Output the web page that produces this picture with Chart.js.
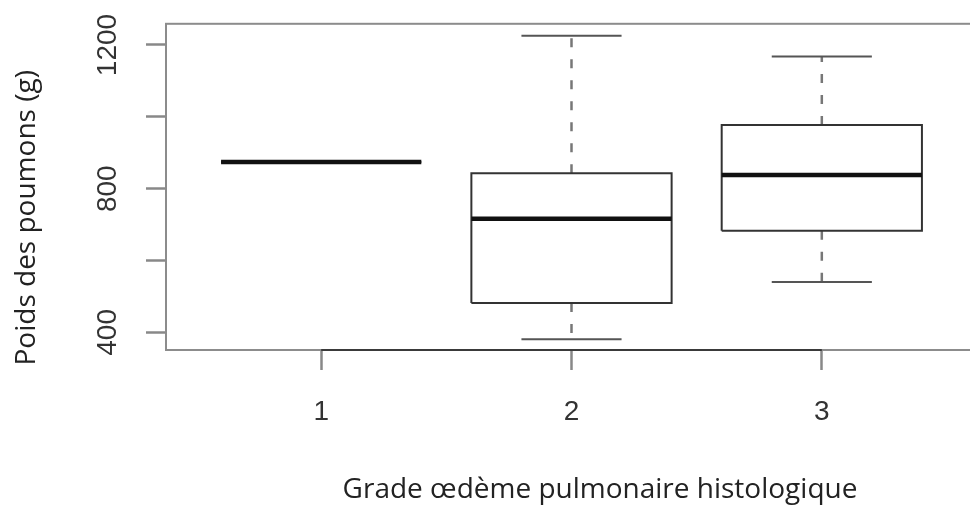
<!DOCTYPE html>
<html>
<head>
<meta charset="utf-8">
<script src="https://cdn.jsdelivr.net/npm/chart.js@4.4.1/dist/chart.umd.min.js"></script>
<style>
  html, body { margin: 0; padding: 0; background: #fff; overflow: hidden; }
  #wrap { width: 990px; height: 507px; }
</style>
</head>
<body>
<div id="wrap"><canvas id="chart" width="990" height="507"></canvas></div>
<script>
// Lung weight (g) by histological pulmonary oedema grade: five-number summaries
const grades = [1, 2, 3];
const lowerWhisker = [874, 381, 540];
const lowerQuartile = [874, 482, 683];
const medians = [874, 716, 838];
const upperQuartile = [874, 843, 977];
const upperWhisker = [874, 1226, 1168];

// y axis: tick marks, and the ones that carry a label
const yTicks = [400, 600, 800, 1000, 1200];
const yLabelled = [400, 800, 1200];

const xTitle = 'Grade œdème pulmonaire histologique';
const yTitle = 'Poids des poumons (g)';

// half widths of box and whisker caps, in x-axis units
const BOX_HALF = 0.4;
const CAP_HALF = 0.2;
const gap = g => ({ x: g + 0.5, y: null });

// build polyline points (segments separated by null gaps)
const boxPoints = [];
const upperWhiskerPoints = [];
const lowerWhiskerPoints = [];
const capPoints = [];
const medianPoints = [];
grades.forEach((g, i) => {
  const l = g - BOX_HALF, r = g + BOX_HALF;
  boxPoints.push(
    { x: l, y: lowerQuartile[i] }, { x: r, y: lowerQuartile[i] },
    { x: r, y: upperQuartile[i] }, { x: l, y: upperQuartile[i] },
    { x: l, y: lowerQuartile[i] }, gap(g));
  upperWhiskerPoints.push({ x: g, y: upperQuartile[i] }, { x: g, y: upperWhisker[i] }, gap(g));
  lowerWhiskerPoints.push({ x: g, y: lowerQuartile[i] }, { x: g, y: lowerWhisker[i] }, gap(g));
  capPoints.push(
    { x: g - CAP_HALF, y: upperWhisker[i] }, { x: g + CAP_HALF, y: upperWhisker[i] }, gap(g - 0.25),
    { x: g - CAP_HALF, y: lowerWhisker[i] }, { x: g + CAP_HALF, y: lowerWhisker[i] }, gap(g));
  medianPoints.push({ x: l, y: medians[i] }, { x: r, y: medians[i] }, gap(g));
});

const lineBase = {
  type: 'line', pointRadius: 0, pointHoverRadius: 0, fill: false,
  tension: 0, spanGaps: false, borderCapStyle: 'butt', borderJoinStyle: 'miter'
};

const TICK_FONT = { family: '"Liberation Sans", Arial, sans-serif', size: 28 };
const TITLE_FONT = '28px "Open Sans", sans-serif';

// plot frame, bottom axis line, axis titles
const framePlugin = {
  id: 'frame',
  beforeDatasetsDraw(chart) {
    const { ctx, chartArea: a, scales: { x } } = chart;
    ctx.save();
    ctx.strokeStyle = '#8c8c8c';
    ctx.lineWidth = 2;
    ctx.strokeRect(a.left, a.top, a.right - a.left, a.bottom - a.top);
    ctx.strokeStyle = '#3a3a3a';
    ctx.beginPath();
    ctx.moveTo(x.getPixelForValue(grades[0]), a.bottom);
    ctx.lineTo(x.getPixelForValue(grades[grades.length - 1]), a.bottom);
    ctx.stroke();
    ctx.restore();
  },
  afterDraw(chart) {
    const { ctx, chartArea: a } = chart;
    ctx.save();
    ctx.fillStyle = '#222';
    ctx.font = TITLE_FONT;
    ctx.textAlign = 'center';
    ctx.textBaseline = 'alphabetic';
    ctx.fillText(xTitle, a.left + 434, a.bottom + 148);
    ctx.translate(35, a.top + 194);
    ctx.rotate(-Math.PI / 2);
    ctx.fillText(yTitle, 0, 0);
    ctx.restore();
  }
};

new Chart(document.getElementById('chart'), {
  type: 'line',
  data: {
    datasets: [
      { ...lineBase, data: medianPoints, borderColor: '#111', borderWidth: 4.5, order: 0 },
      { ...lineBase, data: capPoints, borderColor: '#555', borderWidth: 2, order: 1 },
      { ...lineBase, data: boxPoints, borderColor: '#333', borderWidth: 2, order: 2 },
      { ...lineBase, data: upperWhiskerPoints, borderColor: '#777', borderWidth: 2.5, borderDash: [9, 12], order: 3 },
      { ...lineBase, data: lowerWhiskerPoints, borderColor: '#777', borderWidth: 2.5, borderDash: [9, 12], order: 3 }
    ]
  },
  options: {
    responsive: false,
    animation: false,
    events: [],
    layout: { padding: { top: 22, right: 13, left: 0, bottom: 0 } },
    plugins: { legend: { display: false }, tooltip: { enabled: false } },
    scales: {
      x: {
        type: 'linear',
        min: 0.38,
        max: 3.62,
        afterBuildTicks: s => { s.ticks = grades.map(v => ({ value: v })); },
        afterFit: s => { s.height = 157; },
        grid: { display: true, drawOnChartArea: false, drawTicks: true, tickLength: 20, tickColor: '#888', tickWidth: 2.5 },
        border: { display: false },
        ticks: { autoSkip: false, maxRotation: 0, padding: 25, color: '#333', font: TICK_FONT,
                 callback: v => String(v) }
      },
      y: {
        type: 'linear',
        min: 351,
        max: 1259,
        afterBuildTicks: s => { s.ticks = yTicks.map(v => ({ value: v })); },
        afterFit: s => { s.width = 166; },
        grid: { display: true, drawOnChartArea: false, drawTicks: true, tickLength: 20, tickColor: '#888', tickWidth: 2.5 },
        border: { display: false },
        ticks: { autoSkip: false, minRotation: 90, maxRotation: 90, crossAlign: 'center', padding: 7,
                 color: '#333', font: TICK_FONT,
                 callback: v => (yLabelled.includes(v) ? String(v) : '') }
      }
    }
  },
  plugins: [framePlugin]
});
</script>
</body>
</html>
